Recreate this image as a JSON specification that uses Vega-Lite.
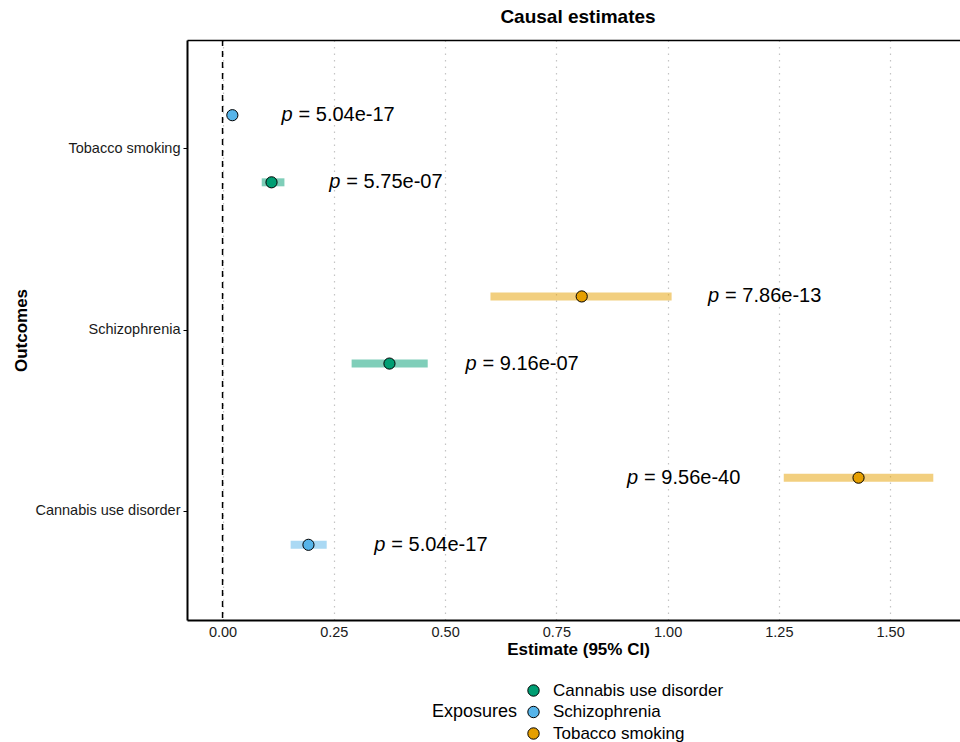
{
  "$schema": "https://vega.github.io/schema/vega-lite/v6.json",
  "width": 773,
  "height": 580,
  "autosize": {"type": "none"},
  "padding": {"left": 187, "top": 40, "right": 0, "bottom": 122},
  "background": "white",
  "config": {"font": "Liberation Sans", "view": {"stroke": null}},
  "title": {"text": "Causal estimates", "fontSize": 19, "fontWeight": "bold", "color": "black", "anchor": "middle", "offset": 12, "dx": 4.5},
  "data": {"values": [
    {"outcome": "Tobacco smoking", "exposure": "Schizophrenia", "slot": "upper", "estimate": 0.022, "lower": 0.012, "upper": 0.032, "label": "= 5.04e-17", "label_x": 0.1325},
    {"outcome": "Tobacco smoking", "exposure": "Cannabis use disorder", "slot": "lower", "estimate": 0.110, "lower": 0.088, "upper": 0.139, "label": "= 5.75e-07", "label_x": 0.240},
    {"outcome": "Schizophrenia", "exposure": "Tobacco smoking", "slot": "upper", "estimate": 0.807, "lower": 0.602, "upper": 1.009, "label": "= 7.86e-13", "label_x": 1.091},
    {"outcome": "Schizophrenia", "exposure": "Cannabis use disorder", "slot": "lower", "estimate": 0.375, "lower": 0.290, "upper": 0.461, "label": "= 9.16e-07", "label_x": 0.546},
    {"outcome": "Cannabis use disorder", "exposure": "Tobacco smoking", "slot": "upper", "estimate": 1.429, "lower": 1.261, "upper": 1.597, "label": "= 9.56e-40", "label_x": 0.909},
    {"outcome": "Cannabis use disorder", "exposure": "Schizophrenia", "slot": "lower", "estimate": 0.193, "lower": 0.153, "upper": 0.234, "label": "= 5.04e-17", "label_x": 0.341}
  ]},
  "resolve": {"axis": {"x": "independent"}},
  "layer": [
    {
      "data": {"values": [{"v": 0}]},
      "mark": {"type": "rule", "strokeDash": [6, 5], "strokeWidth": 1.5, "color": "black"},
      "encoding": {
        "x": {"field": "v", "type": "quantitative",
          "scale": {"domain": [-0.0799, 1.657], "nice": false, "zero": false},
          "axis": {"orient": "top", "labels": false, "ticks": false, "grid": false, "title": null, "domain": true, "domainWidth": 1.5, "domainColor": "black"}}
      }
    },
    {
      "encoding": {
        "y": {"field": "outcome", "type": "nominal",
          "sort": ["Tobacco smoking", "Schizophrenia", "Cannabis use disorder"],
          "scale": {"type": "band", "paddingInner": 0, "paddingOuter": 0.1},
          "axis": {"title": "Outcomes", "titleFontSize": 17, "titleFontWeight": "bold", "titleColor": "black", "titlePadding": 4,
            "labelFontSize": 14.5, "labelColor": "#1a1a1a", "labelPadding": 3, "labelLimit": 200,
            "tickSize": 4, "tickColor": "black", "domainColor": "black", "domainWidth": 2, "grid": false}},
        "yOffset": {"field": "slot", "type": "nominal", "sort": ["upper", "lower"],
          "scale": {"type": "band", "paddingInner": 0, "paddingOuter": 0.35}}
      },
      "layer": [
        {
          "mark": {"type": "rule", "strokeWidth": 8, "opacity": 0.5, "strokeCap": "butt"},
          "encoding": {
            "x": {"field": "lower", "type": "quantitative",
              "scale": {"domain": [-0.0799, 1.657], "nice": false, "zero": false},
              "axis": {"orient": "bottom", "values": [0, 0.25, 0.5, 0.75, 1, 1.25, 1.5], "format": ".2f",
                "labelFontSize": 14.5, "labelColor": "#1a1a1a", "labelPadding": 5, "ticks": false,
                "grid": true, "gridDash": [1.5, 5], "gridColor": "#c4c4c4", "gridWidth": 1.2,
                "domainColor": "black", "domainWidth": 2,
                "title": "Estimate (95% CI)", "titleFontSize": 17, "titleFontWeight": "bold", "titleColor": "black", "titlePadding": 3, "titleX": 391}},
            "x2": {"field": "upper"},
            "color": {"field": "exposure", "type": "nominal",
              "scale": {"domain": ["Tobacco smoking", "Schizophrenia", "Cannabis use disorder"], "range": ["#E69F00", "#56B4E9", "#009E73"]},
              "legend": null}
          }
        },
        {
          "mark": {"type": "circle", "size": 125, "stroke": "black", "strokeWidth": 1, "opacity": 1},
          "encoding": {
            "x": {"field": "estimate", "type": "quantitative"},
            "fill": {"field": "exposure", "type": "nominal",
              "scale": {"domain": ["Cannabis use disorder", "Schizophrenia", "Tobacco smoking"], "range": ["#009E73", "#56B4E9", "#E69F00"]},
              "legend": {"title": "Exposures", "orient": "none", "legendX": 245, "legendY": 642, "direction": "vertical",
                "titleOrient": "left", "titleAnchor": "middle", "titleBaseline": "middle", "titleFontSize": 18, "titleFontWeight": "normal", "titleColor": "black", "titlePadding": 7,
                "labelFontSize": 17, "labelColor": "black", "labelOffset": 11, "labelLimit": 300,
                "symbolType": "circle", "symbolSize": 130, "symbolStrokeColor": "black", "symbolStrokeWidth": 1, "symbolOpacity": 1, "rowPadding": 3.5}}
          }
        },
        {
          "mark": {"type": "text", "text": "p", "fontStyle": "italic", "fontSize": 20, "align": "left", "baseline": "middle", "color": "black"},
          "encoding": {
            "x": {"field": "label_x", "type": "quantitative"}
          }
        },
        {
          "mark": {"type": "text", "fontSize": 20, "align": "left", "baseline": "middle", "color": "black", "dx": 17},
          "encoding": {
            "x": {"field": "label_x", "type": "quantitative"},
            "text": {"field": "label"}
          }
        }
      ]
    }
  ]
}
